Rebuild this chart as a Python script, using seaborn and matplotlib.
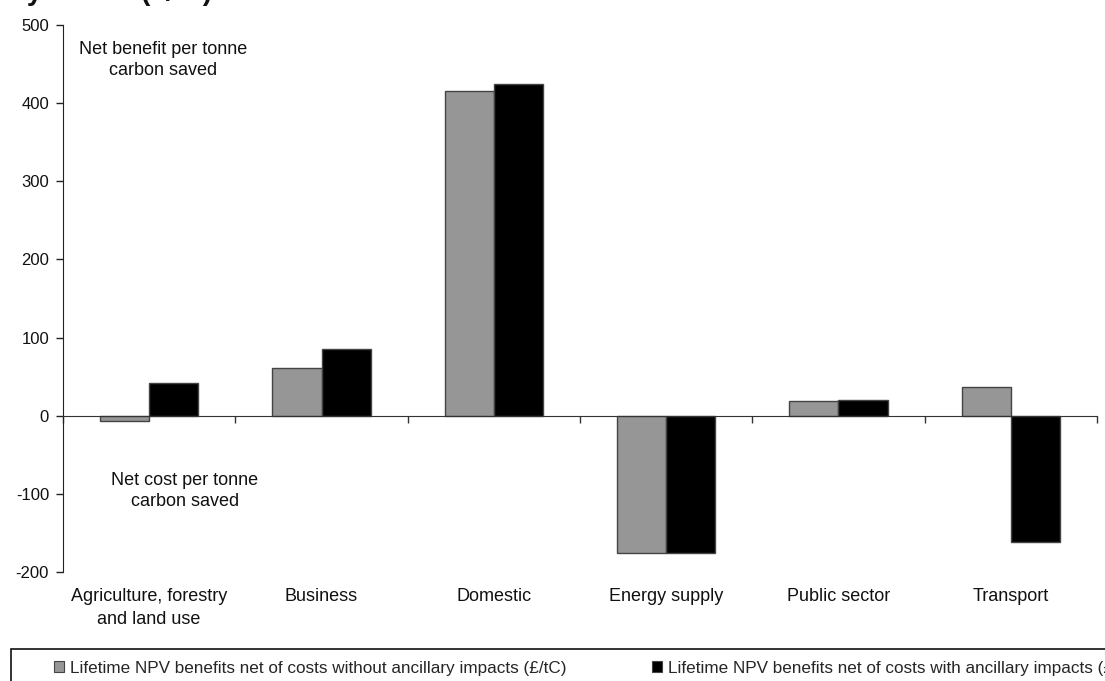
import matplotlib
matplotlib.use("Agg")
import matplotlib.pyplot as plt
import seaborn as sns
import pandas as pd
import numpy as np
from matplotlib.patches import Rectangle

sectors = [
    "Agriculture, forestry\nand land use",
    "Business",
    "Domestic",
    "Energy supply",
    "Public sector",
    "Transport",
]
series_names = [
    "Lifetime NPV benefits net of costs without ancillary impacts (£/tC)",
    "Lifetime NPV benefits net of costs with ancillary impacts (£/tC)",
]
without_ancillary = [-7, 61, 415, -176, 19, 37]
with_ancillary = [42, 86, 424, -176, 20, -162]
y_ticks = [-200, -100, 0, 100, 200, 300, 400, 500]
bar_colors = ["#969696", "#000000"]

W, H = 1105, 681


def main():
    sns.set_style("white")
    plt.rcParams["font.family"] = ["Liberation Sans", "DejaVu Sans"]

    df = pd.DataFrame({
        "sector": sectors * 2,
        "series": [series_names[0]] * len(sectors) + [series_names[1]] * len(sectors),
        "value": without_ancillary + with_ancillary,
    })

    fig = plt.figure(figsize=(W / 100, H / 100), dpi=100)
    ax = fig.add_axes([63 / W, 1 - 572 / H, 1034 / W, 547 / H])

    sns.barplot(
        data=df, x="sector", y="value", hue="series",
        order=sectors, hue_order=series_names,
        palette=bar_colors, width=0.57, edgecolor="#444444", linewidth=1,
        ax=ax, legend=True,
    )

    ax.set_ylim(-200, 500)
    ax.set_xlim(-0.5, len(sectors) - 0.5)
    ax.set_yticks(y_ticks)
    ax.set_yticklabels([str(v) for v in y_ticks], fontsize=12, color="#111111")
    ax.tick_params(axis="y", direction="out", length=5, width=1, pad=5, left=True, color="#222222")

    # zero line carries the category boundary ticks
    for side in ["top", "right"]:
        ax.spines[side].set_visible(False)
    ax.spines["bottom"].set_position(("data", 0))
    ax.spines["bottom"].set_color("#333333")
    ax.spines["left"].set_color("#222222")
    ax.set_xticks(np.arange(-0.5, len(sectors), 1.0))
    ax.set_xticklabels([])
    ax.tick_params(axis="x", which="major", direction="out", length=5, width=1, color="#333333", bottom=True)
    ax.set_xticks(np.arange(len(sectors)), minor=True)
    ax.set_xticklabels(sectors, minor=True, fontsize=13, color="#111111", linespacing=1.45, va="top")
    ax.tick_params(axis="x", which="minor", length=0, pad=124)

    ax.set_xlabel("")
    ax.set_ylabel("")

    ax.text(0.0967, 0.936, "Net benefit per tonne\ncarbon saved", transform=ax.transAxes,
            ha="center", va="center", fontsize=13, color="#111111", linespacing=1.3)
    ax.text(0.118, 0.148, "Net cost per tonne\ncarbon saved", transform=ax.transAxes,
            ha="center", va="center", fontsize=13, color="#111111", linespacing=1.3)

    # title sits mostly above the page edge, as in the source
    fig.text(0.009, 1.0, "by sector (£/tC)", fontsize=20,
             fontweight="bold", ha="left", va="baseline", color="#111111")

    # legend in a box that runs off the page
    ax.get_legend().remove()
    handles = [Rectangle((0, 0), 1, 1, facecolor=c, edgecolor="#444444", linewidth=0.8) for c in bar_colors]
    fig.patches.append(Rectangle((11 / W, -0.1), 1.2, 0.1 + (H - 649) / H,
                                 transform=fig.transFigure, fill=False,
                                 edgecolor="#111111", linewidth=1.2))
    fig.legend(handles, series_names, loc="center left",
               bbox_to_anchor=(54 / W, 1 - 668 / H), ncol=2, frameon=False,
               fontsize=12.3, handlelength=0.6, handleheight=0.6, handletextpad=0.35,
               columnspacing=5.0, borderpad=0, borderaxespad=0)

    fig.savefig("out.png", dpi=100)
    plt.close(fig)


if __name__ == "__main__":
    main()
